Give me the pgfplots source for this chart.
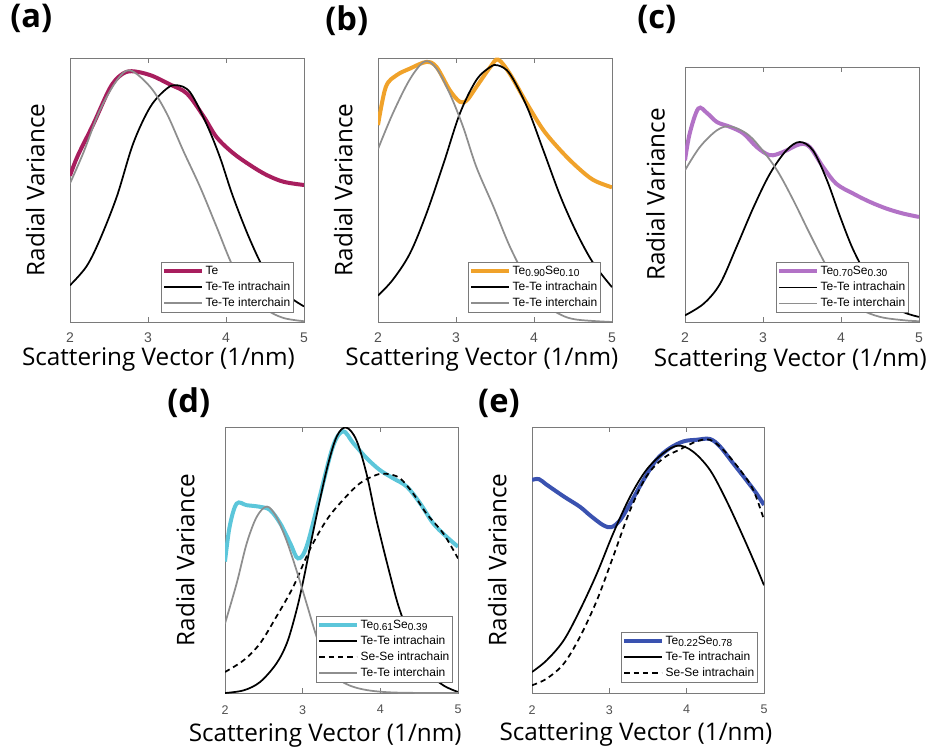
\documentclass[border=0pt]{standalone}
\usepackage{pgfplots}
\pgfplotsset{compat=1.18}
\usepackage{fontspec}
\setmainfont{Open Sans}
\newfontfamily\arialf{Liberation Sans}
\definecolor{cTe}{HTML}{A81E5E}
\definecolor{cOr}{HTML}{F0A22A}
\definecolor{cPu}{HTML}{B272C6}
\definecolor{cCy}{HTML}{5CC6DA}
\definecolor{cBl}{HTML}{3A52B0}
\definecolor{cGr}{HTML}{8E8E8E}
\definecolor{cAx}{HTML}{7A7A7A}
\definecolor{cTk}{HTML}{505050}
\pgfplotsset{
  panel/.style={
    scale only axis,
    xmin=2, xmax=5, ymin=0, ymax=1,
    xtick={2,3,4,5}, xticklabels={2,3,4,5}, ytick=\empty,
    axis line style={cAx, line width=0.6pt},
    tick style={cAx, line width=0.5pt},
    major tick length=3.5pt,
    xticklabel style={font=\arialf\fontsize{10.5}{12}\selectfont, text=cTk, inner sep=0pt, yshift=-8pt},
    label style={font=\fontsize{18.2}{22}\selectfont},
    ylabel={Radial Variance},
    xlabel={Scattering Vector (1/nm)},
    title style={font=\bfseries\fontsize{24.5}{28}\selectfont, inner sep=0pt, anchor=north west},
    legend cell align=left,
    legend style={anchor=south east, draw=cAx, line width=0.5pt,
      font=\arialf\fontsize{9}{10}\selectfont, inner sep=1pt,
      nodes={inner sep=1.5pt, text height=7pt, text depth=2pt}, row sep=0pt},
    legend image code/.code={\draw[#1] (0pt,0pt) -- (28pt,0pt);},
    every axis plot/.append style={smooth, tension=0.55},
  },
  col/.style={line width=3pt, #1},
  blk/.style={line width=1.3pt, black},
  gry/.style={line width=1.3pt, cGr},
  dsh/.style={line width=1.3pt, black, dashed, dash pattern=on 4pt off 3pt},
}
\newcommand{\sub}[1]{\raisebox{-0.35ex}{\fontsize{7.6}{8}\selectfont #1}}
\begin{document}
\begin{tikzpicture}
\useasboundingbox (0,0) rectangle (699pt,563.25pt);
% (a)
\begin{axis}[panel, at={(52.5pt,321.75pt)}, anchor=south west, width=175.5pt, height=198pt,
  title={(a)}, title style={at={(axis description cs:-0.256,1.174)}},
  ylabel style={at={(axis description cs:-0.107,0.5)}, anchor=south, inner sep=0pt},
  xlabel style={at={(axis description cs:0.378,-0.095)}, anchor=north, inner sep=0pt},
  legend style={at={(0.957,0.034)}}]
\addplot[col=cTe] coordinates {(2.00,0.554) (2.10,0.63) (2.30,0.75) (2.51,0.885) (2.65,0.935) (2.79,0.95) (3.03,0.935) (3.28,0.90) (3.50,0.865) (3.71,0.78) (3.88,0.70) (4.09,0.64) (4.31,0.594) (4.52,0.557) (4.74,0.531) (5.00,0.519)};
\addlegendentry{Te}
\addplot[blk] coordinates {(2.00,0.139) (2.21,0.21) (2.38,0.31) (2.60,0.475) (2.81,0.676) (3.03,0.815) (3.24,0.884) (3.37,0.897) (3.54,0.87) (3.75,0.75) (3.92,0.626) (4.09,0.475) (4.31,0.31) (4.52,0.185) (4.78,0.103) (5.00,0.059)};
\addlegendentry{Te-Te intrachain}
\addplot[gry] coordinates {(2.00,0.525) (2.17,0.64) (2.38,0.80) (2.60,0.915) (2.77,0.953) (3.03,0.89) (3.24,0.79) (3.45,0.65) (3.67,0.51) (3.88,0.36) (4.09,0.21) (4.31,0.11) (4.52,0.047) (4.74,0.015) (5.00,0.003)};
\addlegendentry{Te-Te interchain}
\end{axis}
% (b)
\begin{axis}[panel, at={(283.5pt,321.75pt)}, anchor=south west, width=175.5pt, height=198pt,
  title={(b)}, title style={at={(axis description cs:-0.226,1.17)}},
  ylabel style={at={(axis description cs:-0.107,0.5)}, anchor=south, inner sep=0pt},
  xlabel style={at={(axis description cs:0.444,-0.098)}, anchor=north, inner sep=0pt},
  legend style={at={(0.953,0.034)}}]
\addplot[col=cOr] coordinates {(2.00,0.746) (2.10,0.89) (2.24,0.935) (2.41,0.96) (2.62,0.985) (2.75,0.966) (2.92,0.878) (3.05,0.834) (3.14,0.84) (3.26,0.89) (3.44,0.966) (3.54,0.994) (3.69,0.94) (3.91,0.827) (4.12,0.727) (4.34,0.65) (4.55,0.588) (4.76,0.538) (5.00,0.51)};
\addlegendentry{Te\sub{0.90}Se\sub{0.10}}
\addplot[blk] coordinates {(2.00,0.10) (2.19,0.16) (2.41,0.26) (2.62,0.41) (2.84,0.60) (3.05,0.79) (3.26,0.916) (3.44,0.966) (3.54,0.972) (3.69,0.94) (3.91,0.815) (4.12,0.65) (4.34,0.475) (4.55,0.336) (4.76,0.223) (5.00,0.132)};
\addlegendentry{Te-Te intrachain}
\addplot[gry] coordinates {(2.00,0.655) (2.19,0.79) (2.41,0.92) (2.60,0.987) (2.75,0.96) (2.92,0.865) (3.09,0.74) (3.26,0.588) (3.48,0.437) (3.69,0.286) (3.91,0.16) (4.12,0.072) (4.34,0.028) (4.55,0.009) (5.00,0.0)};
\addlegendentry{Te-Te interchain}
\end{axis}
% (c)
\begin{axis}[panel, at={(513.75pt,321.75pt)}, anchor=south west, width=175.5pt, height=191.25pt,
  title={(c)}, title style={at={(axis description cs:-0.205,1.212)}},
  ylabel style={at={(axis description cs:-0.085,0.5)}, anchor=south, inner sep=0pt},
  xlabel style={at={(axis description cs:0.45,-0.102)}, anchor=north, inner sep=0pt},
  legend style={at={(0.957,0.035)}}]
\addplot[col=cPu] coordinates {(2.00,0.634) (2.06,0.739) (2.17,0.837) (2.28,0.82) (2.41,0.784) (2.58,0.765) (2.75,0.739) (2.92,0.686) (3.09,0.654) (3.26,0.667) (3.47,0.697) (3.60,0.686) (3.77,0.608) (3.94,0.542) (4.16,0.503) (4.37,0.471) (4.59,0.444) (4.80,0.425) (5.00,0.412)};
\addlegendentry{Te\sub{0.70}Se\sub{0.30}}
\addplot[blk] coordinates {(2.00,0.026) (2.24,0.072) (2.45,0.15) (2.66,0.294) (2.88,0.451) (3.09,0.582) (3.30,0.673) (3.47,0.706) (3.64,0.673) (3.82,0.556) (3.99,0.412) (4.16,0.281) (4.37,0.163) (4.59,0.085) (4.80,0.039) (5.00,0.02)};
\addlegendentry{Te-Te intrachain}
\addplot[gry] coordinates {(2.00,0.595) (2.19,0.686) (2.41,0.752) (2.58,0.767) (2.79,0.739) (2.96,0.686) (3.18,0.595) (3.39,0.477) (3.60,0.346) (3.82,0.216) (4.03,0.111) (4.24,0.052) (4.50,0.02) (4.80,0.007) (5.00,0.003)};
\addlegendentry{Te-Te interchain}
\end{axis}
% (d)
\begin{axis}[panel, at={(168.75pt,43.5pt)}, anchor=south west, width=174.75pt, height=199.5pt,
  title={(d)}, title style={at={(axis description cs:-0.249,1.12)}},
  xticklabel style={font=\arialf\fontsize{9.4}{11}\selectfont, yshift=-1pt},
  ylabel style={at={(axis description cs:-0.129,0.5)}, anchor=south, inner sep=0pt},
  xlabel style={at={(axis description cs:0.43,-0.113)}, anchor=north, inner sep=0pt},
  legend style={at={(0.979,0.038)}}]
\addplot[col=cCy] coordinates {(2.00,0.494) (2.06,0.626) (2.15,0.712) (2.28,0.706) (2.45,0.70) (2.58,0.688) (2.71,0.638) (2.84,0.563) (2.94,0.506) (3.05,0.55) (3.22,0.739) (3.39,0.927) (3.52,0.984) (3.65,0.94) (3.82,0.884) (3.99,0.839) (4.16,0.808) (4.34,0.776) (4.51,0.714) (4.68,0.638) (4.85,0.588) (5.00,0.55)};
\addlegendentry{Te\sub{0.61}Se\sub{0.39}}
\addplot[blk] coordinates {(2.00,0.0) (2.24,0.01) (2.45,0.041) (2.66,0.11) (2.80,0.19) (2.92,0.31) (3.01,0.425) (3.14,0.613) (3.31,0.84) (3.44,0.965) (3.56,0.998) (3.69,0.952) (3.82,0.827) (3.95,0.651) (4.12,0.45) (4.25,0.312) (4.42,0.186) (4.59,0.085) (4.81,0.029) (5.00,0.004)};
\addlegendentry{Te-Te intrachain}
\addplot[dsh] coordinates {(2.00,0.079) (2.24,0.123) (2.45,0.186) (2.66,0.286) (2.88,0.40) (3.09,0.538) (3.31,0.651) (3.52,0.726) (3.74,0.789) (3.95,0.82) (4.08,0.824) (4.25,0.808) (4.42,0.751) (4.59,0.676) (4.81,0.60) (5.00,0.506)};
\addlegendentry{Se-Se intrachain}
\addplot[gry] coordinates {(2.00,0.261) (2.15,0.412) (2.28,0.563) (2.41,0.663) (2.54,0.701) (2.66,0.663) (2.79,0.575) (2.92,0.462) (3.05,0.337) (3.18,0.211) (3.31,0.11) (3.48,0.048) (3.74,0.016) (4.16,0.002) (5.00,0.0)};
\addlegendentry{Te-Te interchain}
\end{axis}
% (e)
\begin{axis}[panel, at={(399pt,43.5pt)}, anchor=south west, width=174pt, height=199.5pt,
  title={(e)}, title style={at={(axis description cs:-0.233,1.113)}},
  xticklabel style={font=\arialf\fontsize{9.4}{11}\selectfont, yshift=-1pt},
  ylabel style={at={(axis description cs:-0.108,0.5)}, anchor=south, inner sep=0pt},
  xlabel style={at={(axis description cs:0.448,-0.109)}, anchor=north, inner sep=0pt},
  legend style={at={(0.974,0.038)}}]
\addplot[col=cBl] coordinates {(2.00,0.801) (2.09,0.804) (2.19,0.783) (2.41,0.739) (2.62,0.70) (2.75,0.668) (2.92,0.631) (3.03,0.624) (3.14,0.65) (3.27,0.712) (3.44,0.80) (3.61,0.877) (3.78,0.92) (3.96,0.946) (4.13,0.952) (4.30,0.955) (4.43,0.927) (4.60,0.864) (4.77,0.801) (4.90,0.751) (5.00,0.707)};
\addlegendentry{Te\sub{0.22}Se\sub{0.78}}
\addplot[blk] coordinates {(2.00,0.079) (2.19,0.123) (2.41,0.198) (2.62,0.312) (2.84,0.45) (3.05,0.60) (3.27,0.739) (3.48,0.839) (3.70,0.902) (3.89,0.93) (4.08,0.908) (4.30,0.839) (4.51,0.726) (4.73,0.588) (4.90,0.475) (5.00,0.405)};
\addlegendentry{Te-Te intrachain}
\addplot[dsh] coordinates {(2.00,0.029) (2.19,0.054) (2.41,0.11) (2.62,0.211) (2.84,0.349) (3.05,0.513) (3.27,0.688) (3.48,0.814) (3.70,0.883) (3.91,0.915) (4.13,0.946) (4.30,0.952) (4.47,0.915) (4.69,0.839) (4.86,0.764) (5.00,0.651)};
\addlegendentry{Se-Se intrachain}
\end{axis}
\end{tikzpicture}
\end{document}
